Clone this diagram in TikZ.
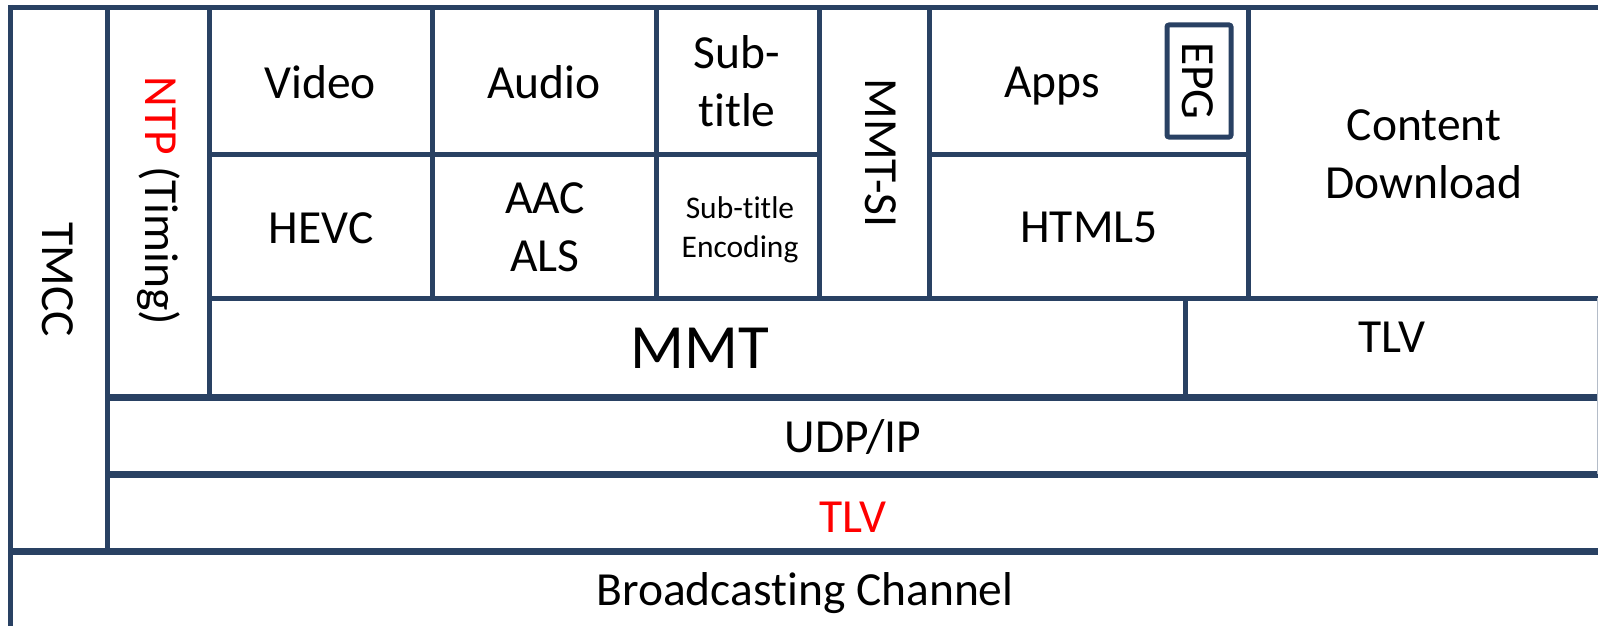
\documentclass[tikz,border=0pt]{standalone}
\usepackage{fontspec}
\setmainfont{Carlito}[Ligatures=NoCommon]
\definecolor{frame}{RGB}{41,65,99}
\begin{document}
\begin{tikzpicture}[x=1pt,y=-1pt,
  grid/.style={draw=frame, line width=5pt},
  heavy/.style={draw=frame, line width=7pt},
  lbl/.style={font=\fontsize{47.5}{58}\selectfont, inner sep=0pt, anchor=base, align=center},
  big/.style={lbl, font=\fontsize{63}{76}\selectfont},
  small/.style={lbl, font=\fontsize{31.5}{39}\selectfont},
  vert/.style={lbl, rotate=-90},
]
\useasboundingbox (0,0) rectangle (1598,626);

% outer frame and column rules
\draw[grid] (10,7.5) -- (1610,7.5);
\draw[grid] (10,5) -- (10,640);
\draw[grid] (107,7.5) -- (107,551);
\draw[grid] (209,7.5) -- (209,397);
\foreach \x in {432,656,819,929,1248}
  \draw[grid] (\x,7.5) -- (\x,298);
\draw[grid] (209,154) -- (819,154);
\draw[grid] (929,154) -- (1248,154);
\draw[grid] (209,298) -- (1610,298);
\draw[grid] (1185,298) -- (1185,397);
\draw[heavy] (107,397) -- (1610,397);
\draw[heavy] (107,474) -- (1610,474);
\draw[heavy] (10,551) -- (1610,551);
\draw[frame!35, line width=1pt] (1597.5,298) -- (1597.5,474);

% EPG inset
\draw[grid, rounded corners=2pt] (1167,25) rectangle (1231,137);

% labels (multi-line nodes are placed by the baseline of their last line)
\node[vert] (tmcc) at (42,280) {TMCC};
\node[vert] (ntp) at (145,201) {\textcolor{red}{NTP} (Timing)};
\node[lbl] (video) at (320,98) {Video};
\node[lbl] (hevc) at (321,243) {HEVC};
\node[lbl] (audio) at (544,98) {Audio};
\node[lbl] (aac) at (545,271) {AAC\\ALS};
\node[lbl] (sub) at (737,126) {Sub-\\title};
\node[small] (subenc) at (740,257) {Sub-title\\Encoding};
\node[vert] (mmtsi) at (865,153) {MMT-SI};
\node[lbl] (apps) at (1052,97) {Apps};
\node[vert] (epg) at (1182,81) {EPG};
\node[lbl] (html) at (1089,242) {HTML5};
\node[lbl] (content) at (1424,198) {Content\\Download};
\node[big] (mmt) at (700,368) {MMT};
\node[lbl] (tlvtop) at (1392,352) {TLV};
\node[lbl] (udp) at (853,452) {UDP/IP};
\node[lbl, text=red] (tlv) at (853,532) {TLV};
\node[lbl] (bc) at (805,605) {Broadcasting Channel};
\end{tikzpicture}
\end{document}
